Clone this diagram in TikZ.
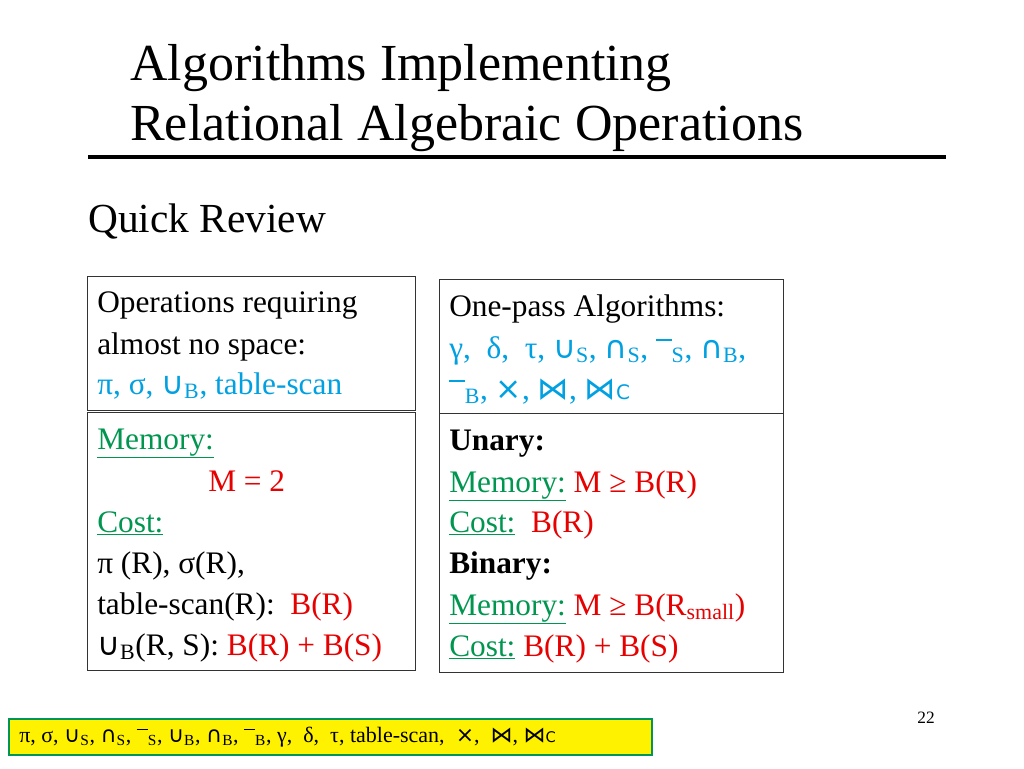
\documentclass[tikz,border=0pt]{standalone}
\usepackage{fontspec}
\setmainfont{Liberation Serif}
\newfontfamily\sym{DejaVu Sans}
\definecolor{mgreen}{RGB}{0,150,80}
\definecolor{mred}{RGB}{230,0,0}
\definecolor{mcyan}{RGB}{0,160,225}
\definecolor{bgreen}{RGB}{0,150,90}
\newcommand{\cu}{{\sym ∪}}
\newcommand{\ca}{{\sym ∩}}
\newcommand{\tm}{{\sym ×}}
\newcommand{\bt}{{\sym ⋈}}
\newcommand{\mn}{\rule[0.55em]{0.5em}{0.06em}}
\newcommand{\gu}[1]{\textcolor{mgreen}{\underline{#1}}}
\newcommand{\rd}[1]{\textcolor{mred}{#1}}
\begin{document}
\begin{tikzpicture}[x=0.75pt,y=-0.75pt,
  box/.style={draw=black!80,line width=0.8pt,inner sep=0pt},
  ln/.style={anchor=base west,inner sep=0pt,font=\fontsize{23.5}{26}\selectfont},
  ttl/.style={anchor=base west,inner sep=0pt,font=\fontsize{39}{42}\selectfont}]
\useasboundingbox (0,0) rectangle (1024,768);
\node[ttl] (t1) at (130,80) {Algorithms Implementing};
\node[ttl] (t2) at (130,140) {Relational Algebraic Operations};
\draw[line width=3pt] (88,157) -- (946,157);
\node[ttl,font=\fontsize{31}{34}\selectfont] (qr) at (88,232) {Quick Review};
% boxes
\node[box,minimum width=328*0.75pt,minimum height=134*0.75pt,anchor=north west] (b1) at (87,276) {};
\node[box,minimum width=328*0.75pt,minimum height=258*0.75pt,anchor=north west] (b2) at (87,412) {};
\node[box,minimum width=344*0.75pt,minimum height=134*0.75pt,anchor=north west] (b3) at (439,279) {};
\node[box,minimum width=344*0.75pt,minimum height=259*0.75pt,anchor=north west] (b4) at (439,413) {};
% box1
\node[ln] (a1) at (97,312) {Operations requiring};
\node[ln] (a2) at (97,354) {almost no space:};
\node[ln,text=mcyan] (a3) at (97,394) {π, σ, \cu\textsubscript{B}, table-scan};
% box2
\node[ln] (c1) at (97,449) {\gu{Memory:}};
\node[ln] (c2) at (208,491) {\rd{M = 2}};
\node[ln] (c3) at (97,532) {\gu{Cost:}};
\node[ln] (c4) at (97,573) {π (R), σ(R),};
\node[ln] (c5) at (97,614) {table-scan(R):\ \ \rd{B(R)}};
\node[ln] (c6) at (97,655) {\cu\textsubscript{B}(R, S): \rd{B(R) + B(S)}};
% box3
\node[ln] (d1) at (449,316) {One-pass Algorithms:};
\node[ln,text=mcyan] (d2) at (449,358) {γ,\ \ δ,\ \ τ, \cu\textsubscript{S}, \ca\textsubscript{S}, \mn\textsubscript{S}, \ca\textsubscript{B},};
\node[ln,text=mcyan] (d3) at (449,399) {\mn\textsubscript{B}, \tm, \bt, \bt{\sym\fontsize{15}{16}\selectfont C}};
% box4
\node[ln] (e1) at (449,450) {\textbf{Unary:}};
\node[ln] (e2) at (449,492) {\gu{Memory:} \rd{M ≥ B(R)}};
\node[ln] (e3) at (449,532) {\gu{Cost:}\ \ \rd{B(R)}};
\node[ln] (e4) at (449,573) {\textbf{Binary:}};
\node[ln] (e5) at (449,615) {\gu{Memory:} \rd{M ≥ B(R\textsubscript{small})}};
\node[ln] (e6) at (449,656) {\gu{Cost:} \rd{B(R) + B(S)}};
% page number
\node[anchor=base,inner sep=0pt,font=\fontsize{13}{15}\selectfont] (pg) at (926,723) {22};
% bottom box
\node[draw=bgreen,fill=yellow,line width=1.5pt,minimum width=643*0.75pt,minimum height=36*0.75pt,anchor=north west,inner sep=0pt] (bb) at (8,718) {};
\node[anchor=west,inner sep=0pt,font=\fontsize{16.5}{18}\selectfont] (bt) at (19,737) {π, σ, \cu\textsubscript{S}, \ca\textsubscript{S}, \mn\textsubscript{S}, \cu\textsubscript{B}, \ca\textsubscript{B}, \mn\textsubscript{B}, γ,\ \ δ,\ \ τ, table-scan,\ \ \tm,\ \ \bt,\ \bt{\sym\fontsize{11}{12}\selectfont C}};
\end{tikzpicture}
\end{document}
